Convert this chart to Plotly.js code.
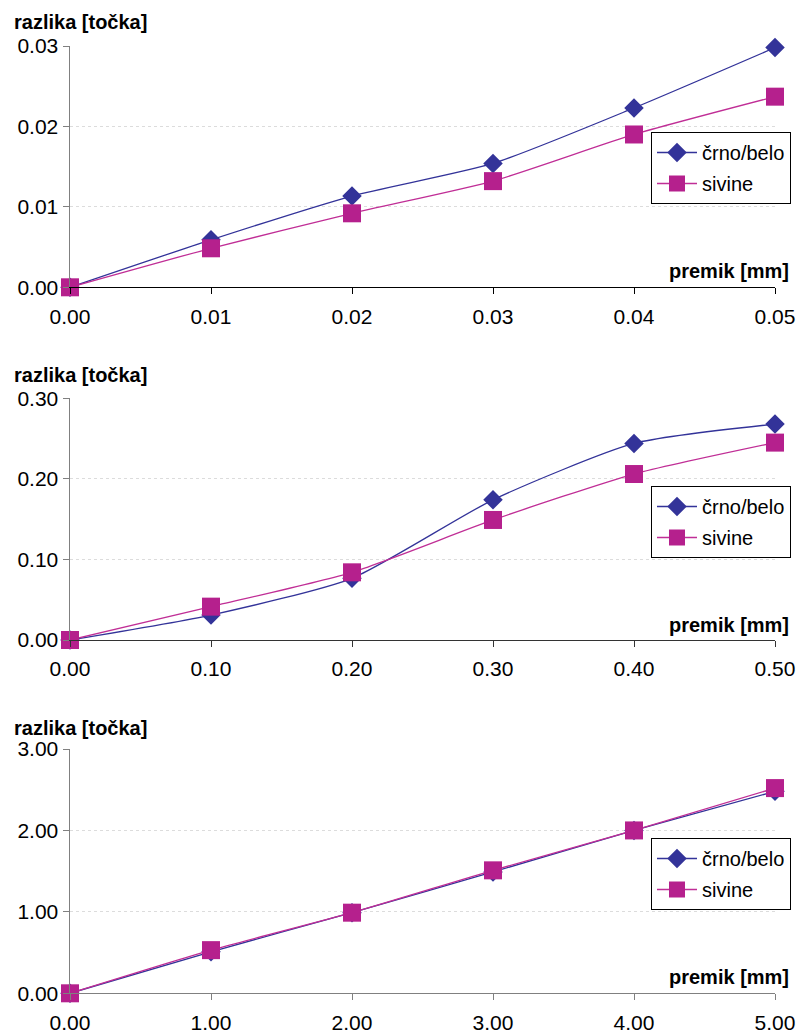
<!DOCTYPE html>
<html>
<head>
<meta charset="utf-8">
<script src="https://cdn.plot.ly/plotly-3.0.1.min.js"></script>
<style>html,body{margin:0;padding:0;background:#fff;}#chart{width:797px;height:1034px;}</style>
</head>
<body>
<div id="chart"></div>
<script>
// ---- data ----
const x1 = [0, 0.01, 0.02, 0.03, 0.04, 0.05];
const crnoBelo1 = [0, 0.0059, 0.01135, 0.0154, 0.0223, 0.0298];
const sivine1 = [0, 0.00485, 0.0092, 0.0132, 0.0190, 0.0237];

const x2 = [0, 0.10, 0.20, 0.30, 0.40, 0.50];
const crnoBelo2 = [0, 0.031, 0.0766, 0.174, 0.244, 0.268];
const sivine2 = [0, 0.0414, 0.084, 0.149, 0.206, 0.245];

const x3 = [0, 1, 2, 3, 4, 5];
const crnoBelo3 = [0, 0.51, 0.99, 1.49, 2.00, 2.48];
const sivine3 = [0, 0.53, 0.99, 1.51, 2.00, 2.52];

const seriesNames = ['črno/belo', 'sivine'];
const yTitle = 'razlika [točka]';
const xTitle = 'premik [mm]';
const xTicks1 = ['0.00','0.01','0.02','0.03','0.04','0.05'];
const xTicks2 = ['0.00','0.10','0.20','0.30','0.40','0.50'];
const xTicks3 = ['0.00','1.00','2.00','3.00','4.00','5.00'];
const yTicks1 = ['0.00','0.01','0.02','0.03'];
const yTicks2 = ['0.00','0.10','0.20','0.30'];
const yTicks3 = ['0.00','1.00','2.00','3.00'];

// ---- style ----
const BLUE = '#333399';
const PINK = '#B5208D';
const PINKLINE = '#C02E96';
const FONT = 'Liberation Sans, Arial, sans-serif';
const W = 797, H = 1034;

function traces(x, a, b, idx) {
  const sfx = idx === 1 ? '' : String(idx);
  return [
    {x: x, y: a, name: seriesNames[0], type: 'scatter', mode: 'lines+markers',
     xaxis: 'x' + sfx, yaxis: 'y' + sfx, legend: 'legend' + sfx, legendgroup: 'a' + idx,
     cliponaxis: false,
     line: {color: BLUE, width: 1.3, shape: 'spline', smoothing: 0.6},
     marker: {symbol: 'diamond', size: 15, color: BLUE}},
    {x: x, y: b, name: seriesNames[1], type: 'scatter', mode: 'lines+markers',
     xaxis: 'x' + sfx, yaxis: 'y' + sfx, legend: 'legend' + sfx, legendgroup: 'b' + idx,
     cliponaxis: false,
     line: {color: PINKLINE, width: 1.3, shape: 'spline', smoothing: 0.6},
     marker: {symbol: 'square', size: 18, color: PINK}}
  ];
}

function py(px) { return (H - px) / H; }
function pxX(px) { return px / W; }

const xDomain = [pxX(70), pxX(775)];
const panels = [
  {x: x1, xt: xTicks1, yt: yTicks1, xr: [0, 0.05], yr: [0, 0.03], top: 46, bot: 287.3, xline: '#000000', ytitle: 22, xtitle: 271, leg: 132},
  {x: x2, xt: xTicks2, yt: yTicks2, xr: [0, 0.5], yr: [0, 0.3], top: 398.3, bot: 640, xline: '#333333', ytitle: 375, xtitle: 625, leg: 486},
  {x: x3, xt: xTicks3, yt: yTicks3, xr: [0, 5], yr: [0, 3], top: 749, bot: 993.3, xline: '#808080', ytitle: 728, xtitle: 977, leg: 838}
];

const data = [].concat(
  traces(x1, crnoBelo1, sivine1, 1),
  traces(x2, crnoBelo2, sivine2, 2),
  traces(x3, crnoBelo3, sivine3, 3)
);

const layout = {
  width: W, height: H,
  margin: {l: 0, r: 0, t: 0, b: 0},
  paper_bgcolor: '#ffffff', plot_bgcolor: '#ffffff',
  font: {family: FONT, size: 21, color: '#000'},
  showlegend: true,
  annotations: []
};

panels.forEach((p, i) => {
  const sfx = i === 0 ? '' : String(i + 1);
  const yvals = p.yt.map(Number);
  const xvals = p.xt.map(Number);
  layout['xaxis' + sfx] = {
    domain: xDomain, range: p.xr, anchor: 'y' + sfx,
    tickmode: 'array', tickvals: xvals, ticktext: p.xt,
    ticks: 'outside', ticklen: 6, tickcolor: p.xline, tickwidth: 1,
    ticklabelstandoff: 4,
    showline: true, linecolor: p.xline, linewidth: 1,
    showgrid: false, zeroline: false,
    tickfont: {family: FONT, size: 21, color: '#000'},
    fixedrange: true
  };
  layout['yaxis' + sfx] = {
    domain: [py(p.bot), py(p.top)], range: p.yr, anchor: 'x' + sfx,
    tickmode: 'array', tickvals: yvals, ticktext: p.yt,
    ticks: 'outside', ticklen: 6, tickcolor: '#808080', tickwidth: 1,
    showline: true, linecolor: '#808080', linewidth: 1.5,
    showgrid: true, gridcolor: '#dcdcdc', griddash: 'dot', gridwidth: 1,
    zeroline: false,
    tickfont: {family: FONT, size: 21, color: '#000'},
    fixedrange: true
  };
  layout['legend' + sfx] = {
    x: pxX(651), y: py(p.leg), xanchor: 'left', yanchor: 'top',
    xref: 'paper', yref: 'paper',
    bgcolor: '#ffffff', bordercolor: '#000000', borderwidth: 1,
    font: {family: FONT, size: 20, color: '#000'},
    tracegroupgap: 2, itemwidth: 40
  };
  layout.annotations.push({
    text: '<b>' + yTitle + '</b>', xref: 'paper', yref: 'paper',
    x: pxX(12), y: py(p.ytitle), xanchor: 'left', yanchor: 'middle',
    showarrow: false, font: {family: FONT, size: 20, color: '#000'}
  });
  layout.annotations.push({
    text: '<b>' + xTitle + '</b>', xref: 'paper', yref: 'paper',
    x: pxX(791), y: py(p.xtitle), xanchor: 'right', yanchor: 'middle',
    showarrow: false, font: {family: FONT, size: 20, color: '#000'}
  });
});

Plotly.newPlot('chart', data, layout, {displayModeBar: false, staticPlot: true});
</script>
</body>
</html>
